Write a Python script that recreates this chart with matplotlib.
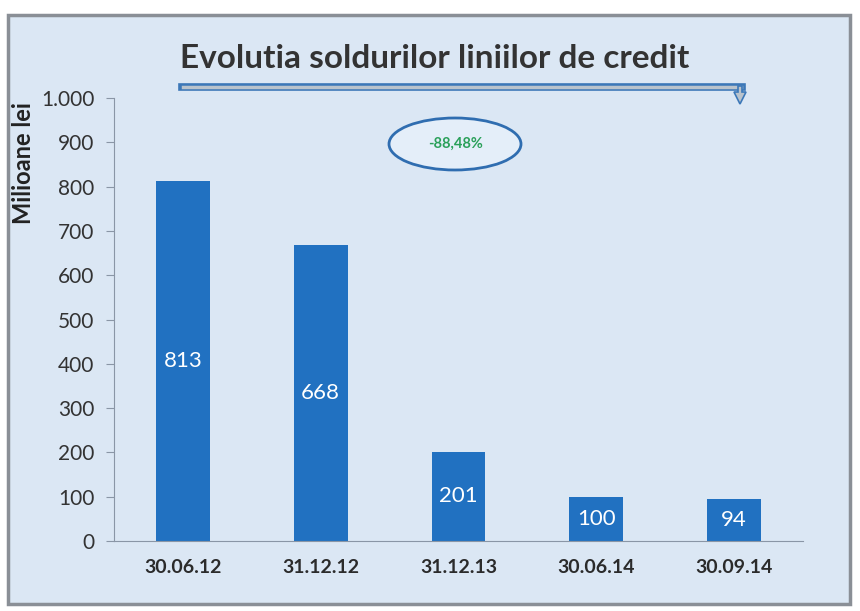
import matplotlib
matplotlib.use("Agg")
import matplotlib.pyplot as plt
from matplotlib.patches import Rectangle, Ellipse, FancyArrow
import numpy as np

categories = ["30.06.12", "31.12.12", "31.12.13", "30.06.14", "30.09.14"]
values = [813, 668, 201, 100, 94]
yticks = [0, 100, 200, 300, 400, 500, 600, 700, 800, 900, 1000]
ytick_labels = ["0", "100", "200", "300", "400", "500", "600", "700", "800", "900", "1.000"]
title = "Evolutia soldurilor liniilor de credit"
ylabel = "Milioane lei"
badge = "-88,48%"

plt.rcParams['font.family'] = ['Lato', 'DejaVu Sans']

W, H = 860, 611
fig = plt.figure(figsize=(W/100, H/100), dpi=100)
fig.patch.set_facecolor('white')

def fx(x): return x / W
def fy(y): return 1 - y / H

# panel background
panel = Rectangle((fx(8), fy(604)), fx(850) - fx(8), fy(15) - fy(604),
                  transform=fig.transFigure, facecolor='#dbe7f4',
                  edgecolor='#8a8f96', linewidth=2.5, zorder=-5)
fig.patches.append(panel)

ax = fig.add_axes([fx(114), fy(541), fx(803) - fx(114), fy(98) - fy(541)], zorder=1)
ax.set_facecolor('none')
x = np.arange(len(categories))
bars = ax.bar(x, values, width=0.39, color='#2171c1', zorder=2)
for xi, v in zip(x, values):
    ax.text(xi, v / 2, str(v), ha='center', va='center', color='white',
            fontsize=16)
ax.set_xlim(-0.5, len(categories) - 0.5)
ax.set_ylim(0, 1000)
ax.set_yticks(yticks)
ax.set_yticklabels(ytick_labels, fontsize=15, color='#333333')
ax.set_xticks(x)
ax.set_xticklabels(categories, fontsize=14, fontweight='bold', color='#2b2b2b')
ax.tick_params(axis='x', length=0, pad=13)
ax.tick_params(axis='y', length=6, color='#8a96a6', pad=8)
for s in ['top', 'right']:
    ax.spines[s].set_visible(False)
ax.spines['left'].set_color('#8a96a6')
ax.spines['bottom'].set_color('#8a96a6')

fig.text(fx(24), fy(163), ylabel, rotation=90, ha='center', va='center',
         fontsize=17, fontweight='bold', color='#222222', zorder=5)

fig.text(fx(435), fy(58), title, ha='center', va='center', fontsize=24,
         fontweight='bold', color='#333333', zorder=5)

# arrow line under title
line_y = fy(87)
fig.add_artist(plt.Line2D([fx(182), fx(742)], [line_y, line_y],
                          transform=fig.transFigure, color='#3c78b8', linewidth=5.5, zorder=5))
fig.add_artist(plt.Line2D([fx(183), fx(741)], [line_y, line_y],
                          transform=fig.transFigure, color='#b9c3cc', linewidth=2.5, zorder=6))
arr = FancyArrow(fx(740), fy(86), 0, fy(104) - fy(86), width=fx(4),
                 head_width=fx(12), head_length=(fy(92) - fy(104)),
                 length_includes_head=True, transform=fig.transFigure,
                 facecolor='#b9c3cc', edgecolor='#3c78b8', linewidth=1.2, zorder=6)
fig.patches.append(arr)

ell = Ellipse((fx(455), fy(144)), fx(132), fy(118) - fy(170),
              transform=fig.transFigure, facecolor='#e4eef9',
              edgecolor='#2f6db0', linewidth=2, zorder=5)
fig.patches.append(ell)
fig.text(fx(456), fy(144), badge, ha='center', va='center', fontsize=10.5,
         fontweight='bold', color='#2aa05a', zorder=6)

fig.savefig('out.png', dpi=100)
